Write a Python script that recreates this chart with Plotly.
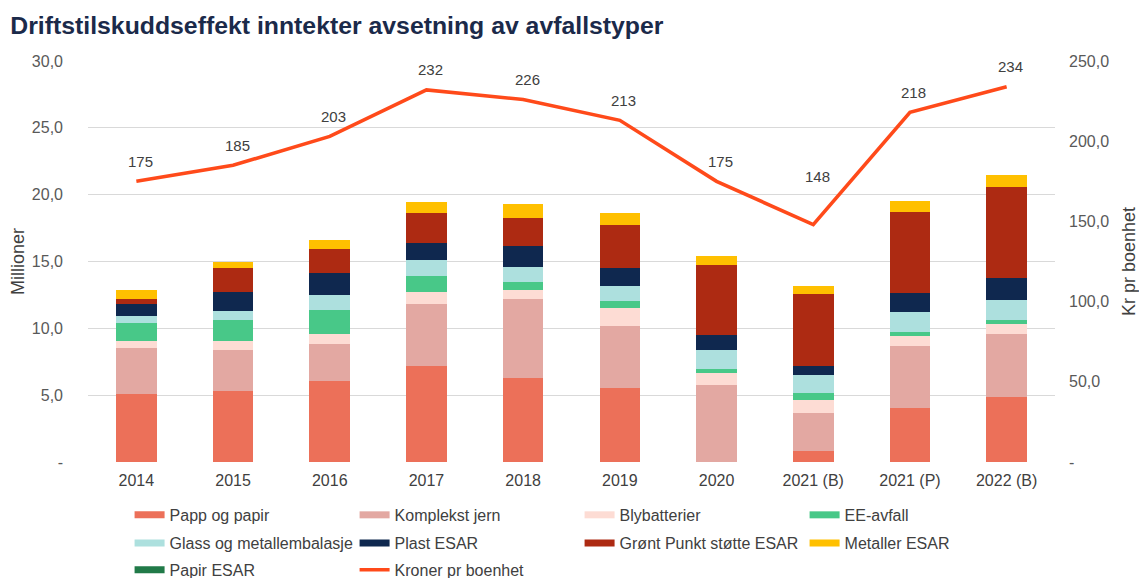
import plotly.graph_objects as go

years = ["2014", "2015", "2016", "2017", "2018", "2019", "2020", "2021 (B)", "2021 (P)", "2022 (B)"]

papp_og_papir = [5.12, 5.32, 6.07, 7.19, 6.31, 5.52, 0.0, 0.80, 4.02, 4.87]
komplekst_jern = [3.44, 3.07, 2.75, 4.62, 5.92, 4.67, 5.77, 2.85, 4.67, 4.69]
blybatterier = [0.50, 0.67, 0.79, 0.92, 0.63, 1.32, 0.90, 0.97, 0.70, 0.75]
ee_avfall = [1.37, 1.55, 1.78, 1.20, 0.57, 0.55, 0.32, 0.53, 0.30, 0.33]
glass_metall = [0.51, 0.70, 1.10, 1.20, 1.17, 1.10, 1.38, 1.34, 1.55, 1.49]
plast_esar = [0.87, 1.42, 1.64, 1.25, 1.58, 1.35, 1.12, 0.70, 1.37, 1.63]
gront_punkt = [0.42, 1.78, 1.77, 2.27, 2.07, 3.22, 5.27, 5.37, 6.06, 6.79]
metaller_esar = [0.63, 0.47, 0.71, 0.77, 1.05, 0.87, 0.65, 0.62, 0.83, 0.90]
papir_esar = [0, 0, 0, 0, 0, 0, 0, 0, 0, 0]
kroner_pr_boenhet = [175, 185, 203, 232, 226, 213, 175, 148, 218, 234]

left_tickvals = [0, 5, 10, 15, 20, 25, 30]
left_ticktext = ["-", "5,0", "10,0", "15,0", "20,0", "25,0", "30,0"]
right_tickvals = [0, 50, 100, 150, 200, 250]
right_ticktext = ["-", "50,0", "100,0", "150,0", "200,0", "250,0"]

series = [
    ("Papp og papir", papp_og_papir, "#EC7059", "legend"),
    ("Komplekst jern", komplekst_jern, "#E3A8A2", "legend"),
    ("Blybatterier", blybatterier, "#FDDCD4", "legend"),
    ("EE-avfall", ee_avfall, "#48C888", "legend"),
    ("Glass og metallembalasje", glass_metall, "#ADE0DE", "legend2"),
    ("Plast ESAR", plast_esar, "#0F284F", "legend2"),
    ("Grønt Punkt støtte ESAR", gront_punkt, "#AD2A12", "legend2"),
    ("Metaller ESAR", metaller_esar, "#FFC000", "legend2"),
    ("Papir ESAR", papir_esar, "#217A48", "legend3"),
]

line_color = "#FF4A1A"
font = "Liberation Sans, Arial, sans-serif"

fig = go.Figure()
for name, vals, col, lg in series:
    fig.add_trace(go.Bar(x=years, y=vals, name=name, marker=dict(color=col, line=dict(width=0)),
                         yaxis="y", showlegend=False, legendgroup=name))
# legend swatches (wide rectangles like the original)
for name, vals, col, lg in series:
    fig.add_trace(go.Scatter(x=[years[0]], y=[None], mode="lines", name=name, legendgroup=name,
                             line=dict(color=col, width=7), legend=lg, showlegend=True))

fig.add_trace(go.Scatter(
    x=years, y=kroner_pr_boenhet, name="Kroner pr boenhet", yaxis="y2",
    mode="lines", line=dict(color=line_color, width=3.6), legend="legend3",
))

min_val = min(kroner_pr_boenhet)
annotations = []
for i, v in enumerate(kroner_pr_boenhet):
    annotations.append(dict(x=i, y=v, xref="x", yref="y2", text=str(v), showarrow=False,
                            yshift=48 if v == min_val else 20, xshift=4,
                            font=dict(size=15, color="#404040", family=font)))

legend_common = dict(orientation="h", x=0.043, xanchor="left", yanchor="middle",
                     entrywidth=180, entrywidthmode="pixels", traceorder="normal",
                     font=dict(size=16, color="#404040", family=font), itemwidth=30,
                     bgcolor="rgba(0,0,0,0)")

fig.update_layout(
    width=1139, height=570,
    margin=dict(l=80, r=92, t=53, b=116, autoexpand=False),
    paper_bgcolor="white", plot_bgcolor="white",
    barmode="stack", bargap=0.58,
    font=dict(family=font, size=16, color="#595959"),
    title=dict(text="<b>Driftstilskuddseffekt inntekter avsetning av avfallstyper</b>",
               x=0.002, xanchor="left", xref="container", y=0.970, yanchor="middle", yref="container",
               font=dict(size=24.8, color="#1B2A4A", family=font)),
    xaxis=dict(type="category", categoryorder="array", categoryarray=years,
               range=[-0.5, len(years) - 0.5],
               showgrid=False, showline=False, ticks="", tickfont=dict(size=16, color="#404040"),
               ticklabelstandoff=7, automargin=False),
    yaxis=dict(range=[0, 30], tickvals=left_tickvals, ticktext=left_ticktext,
               showgrid=True, gridcolor="#D9D9D9", gridwidth=1, zeroline=False, automargin=False,
               title=dict(text="Millioner", font=dict(size=18, color="#404040"), standoff=10),
               tickfont=dict(size=16, color="#595959"), ticklabelstandoff=24),
    yaxis2=dict(range=[0, 250], tickvals=right_tickvals, ticktext=right_ticktext, automargin=False,
                overlaying="y", side="right", showgrid=False, zeroline=False,
                title=dict(text="Kr pr boenhet", font=dict(size=18, color="#404040"), standoff=14),
                tickfont=dict(size=16, color="#595959"), ticklabelstandoff=13),
    legend=dict(y=-0.132, **legend_common),
    legend2=dict(y=-0.202, **legend_common),
    legend3=dict(y=-0.269, **legend_common),
    annotations=annotations,
)

fig.write_html("out.html")
